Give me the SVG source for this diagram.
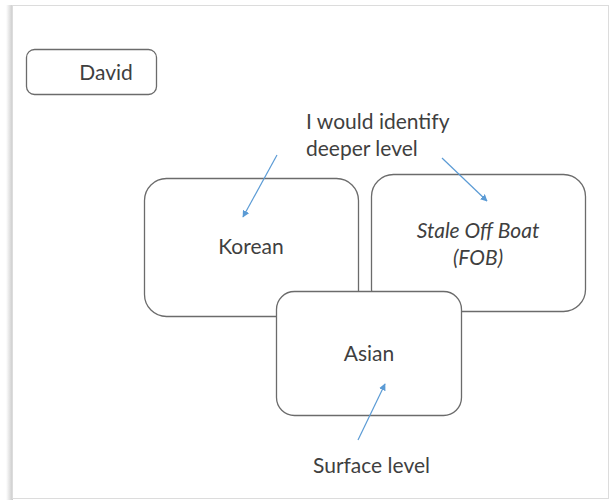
<svg xmlns="http://www.w3.org/2000/svg" width="612" height="503" viewBox="0 0 612 503">
  <style>
    .box { fill: #ffffff; stroke: #6b6b6b; stroke-width: 1.3; }
    .lbl { font-family: Lato, "Open Sans", sans-serif; font-size: 21px; fill: #3f3f3f; text-anchor: middle; }
    .note { font-family: Lato, "Open Sans", sans-serif; font-size: 21px; fill: #3f3f3f; }
    .conn { stroke: #5b9bd5; stroke-width: 1.2; fill: none; marker-end: url(#arrow); }
  </style>
  <defs>
    <marker id="arrow" viewBox="0 0 10 10" refX="9" refY="5" markerWidth="7" markerHeight="7" orient="auto" markerUnits="userSpaceOnUse">
      <path d="M0,0 L10,5 L0,10 z" fill="#5b9bd5"/>
    </marker>
    <linearGradient id="shadeL" x1="0" y1="0" x2="1" y2="0">
      <stop offset="0" stop-color="#ffffff"/>
      <stop offset="1" stop-color="#c8c8c8"/>
    </linearGradient>
  </defs>

  <!-- page -->
  <rect x="0" y="0" width="612" height="503" fill="#ffffff"/>
  <rect x="6" y="5" width="7" height="495" fill="url(#shadeL)"/>
  <rect x="12.5" y="5.5" width="596" height="493" fill="#ffffff" stroke="#dcdcdc" stroke-width="1"/>

  <g id="node-david">
    <rect class="box" x="26.5" y="49.5" width="130" height="45" rx="8"/>
    <text class="lbl" x="106" y="80">David</text>
  </g>

  <g id="node-korean">
    <rect class="box" x="144.5" y="178.5" width="214" height="138" rx="22"/>
    <text class="lbl" x="251" y="254">Korean</text>
  </g>

  <g id="node-fob">
    <rect class="box" x="371.5" y="174.5" width="214" height="137" rx="22"/>
    <text class="lbl" x="478" y="238" font-style="italic">Stale Off Boat</text>
    <text class="lbl" x="478" y="265" font-style="italic">(FOB)</text>
  </g>

  <g id="node-asian">
    <rect class="box" x="276.5" y="291.5" width="185" height="124" rx="18"/>
    <text class="lbl" x="369" y="361">Asian</text>
  </g>

  <g id="note-deeper">
    <text class="note" x="306" y="129">I would identify</text>
    <text class="note" x="306" y="156">deeper level</text>
  </g>

  <g id="note-surface">
    <text class="note" x="313" y="473">Surface level</text>
  </g>

  <g id="connectors">
    <line class="conn" x1="277" y1="155" x2="243" y2="217"/>
    <line class="conn" x1="442" y1="158" x2="487" y2="201"/>
    <line class="conn" x1="358" y1="440" x2="385" y2="384"/>
  </g>
</svg>
